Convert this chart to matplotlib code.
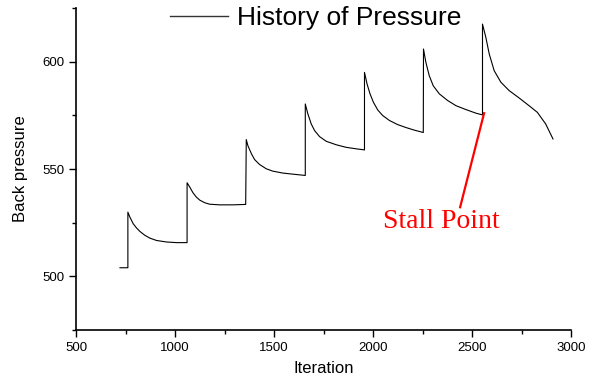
import matplotlib
matplotlib.use("Agg")
import matplotlib.pyplot as plt
from matplotlib.ticker import MultipleLocator

# Back pressure history
iteration = [722, 762, 762, 772, 789, 806, 823, 848, 873, 907, 957, 1008, 1061,
             1061, 1075, 1091, 1108, 1125, 1150, 1175, 1226, 1293, 1357,
             1360, 1368, 1386, 1402, 1427, 1461, 1494, 1545, 1595, 1658,
             1658, 1671, 1688, 1705, 1730, 1764, 1814, 1864, 1915, 1957,
             1957, 1970, 1985, 2002, 2024, 2049, 2083, 2124, 2167, 2209, 2254,
             2255, 2267, 2284, 2304, 2335, 2377, 2419, 2469, 2520, 2553,
             2553, 2570, 2587, 2612, 2646, 2688, 2738, 2788, 2830, 2872, 2909]
pressure = [504.0, 504.0, 529.9, 527.6, 524.5, 522.5, 520.9, 519.1, 517.8, 516.7, 516.0, 515.7, 515.7,
            543.6, 541.5, 538.9, 536.9, 535.5, 534.3, 533.6, 533.3, 533.3, 533.5,
            563.7, 560.9, 557.1, 554.4, 552.1, 550.1, 549.0, 548.1, 547.6, 547.0,
            580.3, 575.7, 571.0, 567.9, 565.1, 562.9, 561.3, 560.1, 559.4, 558.9,
            595.0, 589.6, 585.0, 581.1, 577.5, 574.9, 572.6, 570.7, 569.3, 568.1, 567.0,
            605.9, 599.7, 593.5, 588.8, 585.0, 581.9, 579.5, 577.7, 576.0, 575.2,
            617.5, 611.3, 603.6, 595.8, 590.4, 586.5, 583.1, 579.5, 576.4, 571.0, 564.0]

# stall marker: pointer line and label anchor
stall_line_x = [2561, 2440]
stall_line_y = [576.0, 532.2]
stall_label_xy = (2052, 522.3)

plt.rcParams['font.family'] = ['Liberation Sans', 'DejaVu Sans']

fig = plt.figure(figsize=(5.96, 3.85), dpi=100)
ax = fig.add_axes([76 / 596, 1 - 330 / 385, (571 - 76) / 596, (330 - 8) / 385])

ax.plot(iteration, pressure, color='black', lw=0.8, label='History of Pressure')
ax.plot(stall_line_x, stall_line_y, color='#ff0000', lw=1.6)
ax.text(stall_label_xy[0], stall_label_xy[1], 'Stall Point', color='#ff0000',
        fontsize=20, family=['Liberation Serif', 'DejaVu Serif'], ha='left', va='baseline')

ax.set_xlim(500, 3000)
ax.set_ylim(475, 625)
ax.xaxis.set_major_locator(MultipleLocator(500))
ax.xaxis.set_minor_locator(MultipleLocator(250))
ax.yaxis.set_major_locator(MultipleLocator(50))
ax.yaxis.set_minor_locator(MultipleLocator(25))

for side in ['top', 'right']:
    ax.spines[side].set_visible(False)
for side in ['left', 'bottom']:
    ax.spines[side].set_linewidth(1.2)

ax.tick_params(which='major', direction='out', length=5, width=1.0, labelsize=9.5)
ax.tick_params(which='minor', direction='out', length=3, width=1.0)

ax.set_xlabel('Iteration', fontsize=12, labelpad=5)
ax.set_ylabel('Back pressure', fontsize=12, labelpad=10)

leg = ax.legend(loc='center left', bbox_to_anchor=(170 / 596, 1 - 18.5 / 385),
                bbox_transform=fig.transFigure, frameon=False, fontsize=19,
                handlelength=2.2, handletextpad=0.34, borderpad=0, borderaxespad=0)
for h in leg.get_lines():
    h.set_color('#333333')
    h.set_linewidth(1.0)

fig.savefig('out.png', dpi=100)
